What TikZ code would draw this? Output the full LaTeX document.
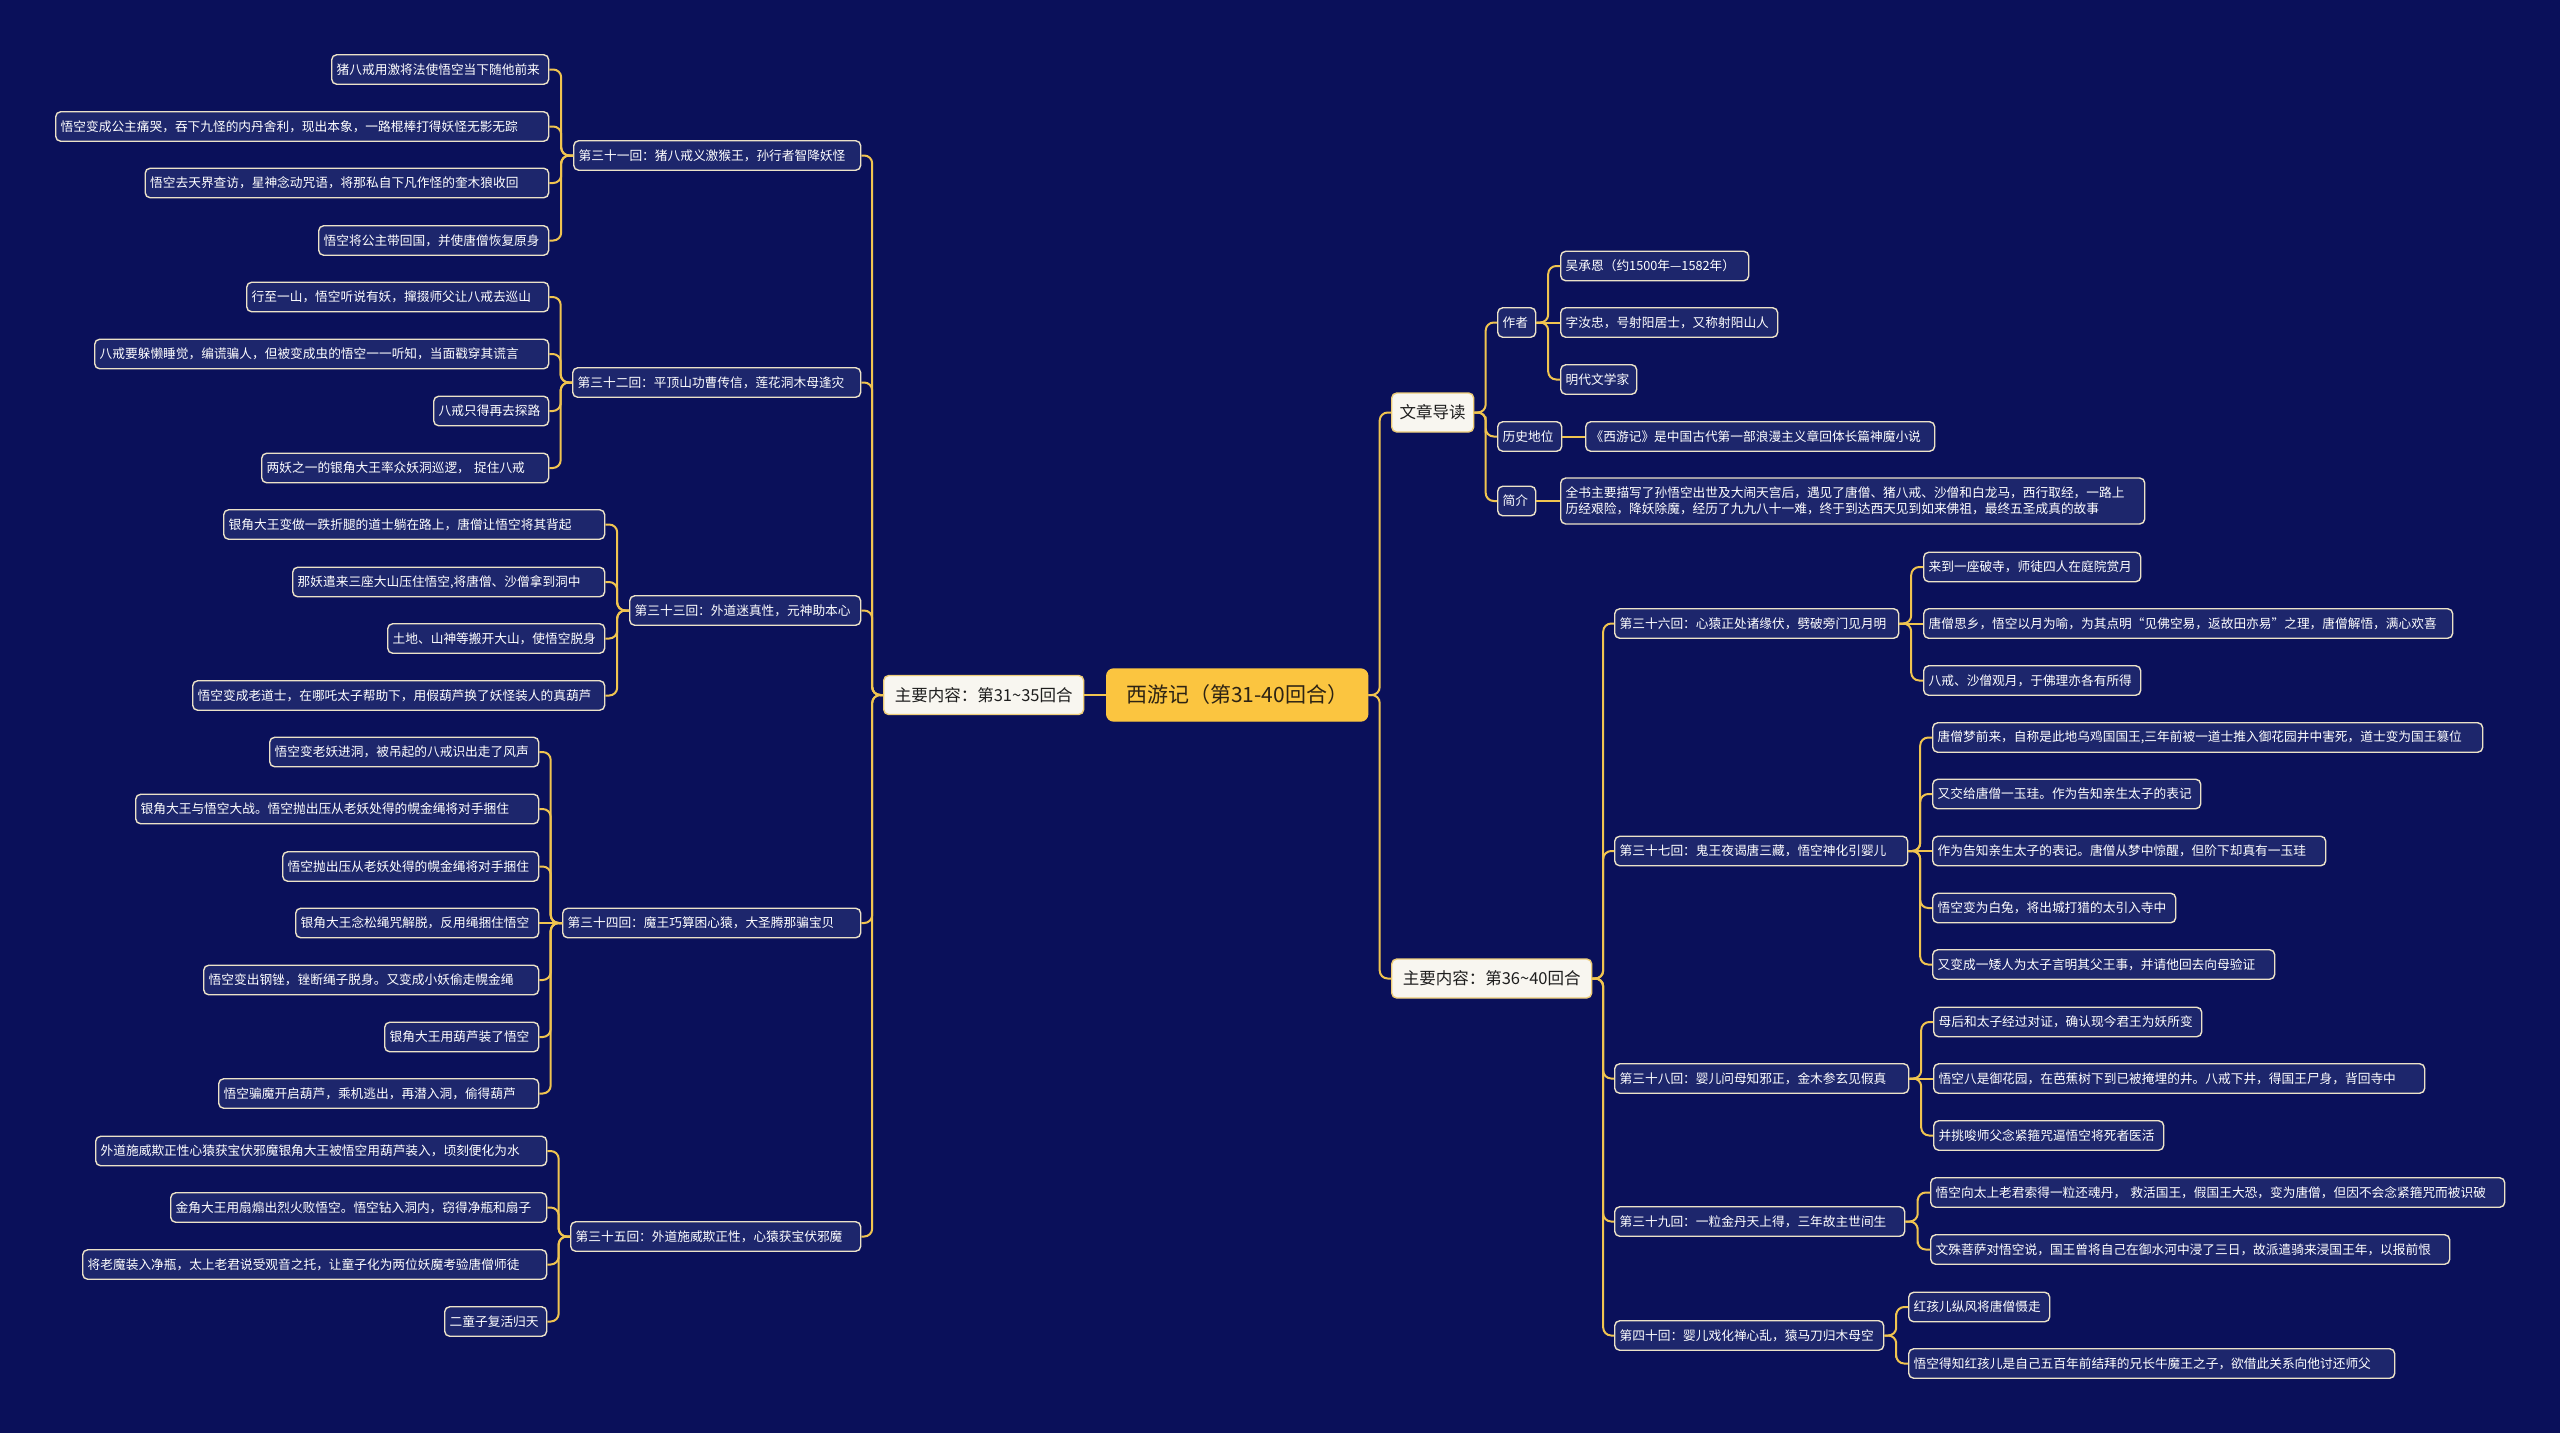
\documentclass[tikz,border=0pt]{standalone}
\usepackage{fontspec}
\setmainfont{Noto Sans CJK SC}
\usetikzlibrary{calc}
\definecolor{bg}{RGB}{10,16,90}
\definecolor{leaffill}{RGB}{29,38,108}
\definecolor{leafdraw}{RGB}{236,226,200}
\definecolor{linkc}{RGB}{240,196,80}
\definecolor{rootfill}{RGB}{251,197,64}
\definecolor{roottext}{RGB}{45,35,20}
\definecolor{lvlfill}{RGB}{248,246,240}
\definecolor{lvldraw}{RGB}{238,205,120}
\definecolor{lvltext}{RGB}{30,30,30}
\newcommand\nd[6]{\pgfmathsetmacro\tw{#4-#3-10}\node[#2, anchor=west, text width=\tw pt] (#1) at (#3,#5) {\mbox{#6}};}
\newcommand\conL[2]{\draw[link] (#1.west) -| ($(#1.west)!.5!(#2.east)$) |- (#2.east);}
\newcommand\conR[2]{\draw[link] (#1.east) -| ($(#1.east)!.5!(#2.west)$) |- (#2.west);}
\newcommand\strL[2]{\draw[link] (#1.west) -- (#2.east);}
\newcommand\strR[2]{\draw[link] (#1.east) -- (#2.west);}
\begin{document}
\begin{tikzpicture}[x=1pt,y=-1pt,
 base/.style={rectangle, rounded corners=5pt, minimum height=29.5pt, inner xsep=5pt, inner ysep=0pt, line width=1.4pt},
 leaf/.style={base, fill=leaffill, draw=leafdraw, text=white, font=\fontsize{12.7}{14}\selectfont, align=left},
 lvl/.style={base, fill=lvlfill, draw=lvldraw, text=lvltext, font=\fontsize{16.5}{19}\selectfont, minimum height=39pt, align=center},
 rootst/.style={base, fill=rootfill, draw=rootfill, text=roottext, font=\fontsize{21}{24}\selectfont, minimum height=52pt, align=center, rounded corners=7pt},
 link/.style={draw=linkc, line width=2pt, rounded corners=8pt}]
\useasboundingbox[fill=bg] (0,0) rectangle (2560,1433);

% centre and level 1
\nd{root}{rootst}{1106}{1367}{695}{西游记（第31-40回合）}
\nd{mainL}{lvl}{883}{1083}{695}{主要内容：第31\textasciitilde35回合}
\nd{intro}{lvl}{1391}{1473}{412.5}{文章导读}
\nd{mainR}{lvl}{1391}{1591}{978.5}{主要内容：第36\textasciitilde40回合}

% left chapters
\nd{c31}{leaf}{573}{860}{155.5}{第三十一回：猪八戒义激猴王，孙行者智降妖怪}
\nd{l31a}{leaf}{331}{548}{69.5}{猪八戒用激将法使悟空当下随他前来}
\nd{l31b}{leaf}{55}{548}{126.5}{悟空变成公主痛哭，吞下九怪的内丹舍利，现出本象，一路棍棒打得妖怪无影无踪}
\nd{l31c}{leaf}{144.5}{548}{183}{悟空去天界查访，星神念动咒语，将那私自下凡作怪的奎木狼收回}
\nd{l31d}{leaf}{318}{548}{240.5}{悟空将公主带回国，并使唐僧恢复原身}

\nd{c32}{leaf}{572}{860}{382.5}{第三十二回：平顶山功曹传信，莲花洞木母逢灾}
\nd{l32a}{leaf}{246}{548}{297}{行至一山，悟空听说有妖，撺掇师父让八戒去巡山}
\nd{l32b}{leaf}{94}{548}{354}{八戒要躲懒睡觉，编谎骗人，但被变成虫的悟空一一听知，当面戳穿其谎言}
\nd{l32c}{leaf}{433}{548}{411}{八戒只得再去探路}
\nd{l32d}{leaf}{261}{548}{468}{两妖之一的银角大王率众妖洞巡逻， 捉住八戒}

\nd{c33}{leaf}{629}{860}{610.5}{第三十三回：外道迷真性，元神助本心}
\nd{l33a}{leaf}{223}{604}{524.5}{银角大王变做一跌折腿的道士躺在路上，唐僧让悟空将其背起}
\nd{l33b}{leaf}{292}{604}{582}{那妖遣来三座大山压住悟空,将唐僧、沙僧拿到洞中}
\nd{l33c}{leaf}{387}{604}{638.5}{土地、山神等搬开大山，使悟空脱身}
\nd{l33d}{leaf}{192}{604}{695.5}{悟空变成老道士，在哪吒太子帮助下，用假葫芦换了妖怪装人的真葫芦}

\nd{c34}{leaf}{562}{860}{923}{第三十四回：魔王巧算困心猿，大圣腾那骗宝贝}
\nd{l34a}{leaf}{269}{538}{752}{悟空变老妖进洞，被吊起的八戒识出走了风声}
\nd{l34b}{leaf}{135}{538}{809}{银角大王与悟空大战。悟空抛出压从老妖处得的幌金绳将对手捆住}
\nd{l34c}{leaf}{282}{538}{866.5}{悟空抛出压从老妖处得的幌金绳将对手捆住}
\nd{l34d}{leaf}{295}{538}{923}{银角大王念松绳咒解脱，反用绳捆住悟空}
\nd{l34e}{leaf}{203}{538}{980}{悟空变出钢锉，锉断绳子脱身。又变成小妖偷走幌金绳}
\nd{l34f}{leaf}{384}{538}{1037}{银角大王用葫芦装了悟空}
\nd{l34g}{leaf}{218}{538}{1093.5}{悟空骗魔开启葫芦，乘机逃出，再潜入洞，偷得葫芦}

\nd{c35}{leaf}{570}{860}{1236.5}{第三十五回：外道施威欺正性，心猿获宝伏邪魔}
\nd{l35a}{leaf}{95}{546}{1151}{外道施威欺正性心猿获宝伏邪魔银角大王被悟空用葫芦装入，顷刻便化为水}
\nd{l35b}{leaf}{170}{546}{1207.5}{金角大王用扇煽出烈火败悟空。悟空钻入洞内，窃得净瓶和扇子}
\nd{l35c}{leaf}{82}{546}{1264.5}{将老魔装入净瓶，太上老君说受观音之托，让童子化为两位妖魔考验唐僧师徒}
\nd{l35d}{leaf}{444}{546}{1321.5}{二童子复活归天}

% right: intro
\nd{zz}{leaf}{1497}{1535}{322.5}{作者}
\nd{ls}{leaf}{1497}{1561}{436.5}{历史地位}
\nd{jj}{leaf}{1497}{1535}{501}{简介}
\nd{a1}{leaf}{1560}{1748}{266}{吴承恩（约1500年—1582年）}
\nd{a2}{leaf}{1560}{1777}{322.5}{字汝忠，号射阳居士，又称射阳山人}
\nd{a3}{leaf}{1560}{1636}{379.5}{明代文学家}
\nd{hist}{leaf}{1585}{1934}{436.5}{《西游记》是中国古代第一部浪漫主义章回体长篇神魔小说}
\node[leaf, anchor=west, text width=574pt, minimum height=46pt, font=\fontsize{12.7}{16}\selectfont] (desc) at (1560,501) {全书主要描写了孙悟空出世及大闹天宫后，遇见了唐僧、猪八戒、沙僧和白龙马，西行取经，一路上\\历经艰险，降妖除魔，经历了九九八十一难，终于到达西天见到如来佛祖，最终五圣成真的故事};

% right chapters
\nd{c36}{leaf}{1614}{1898}{623.5}{第三十六回：心猿正处诸缘伏，劈破旁门见月明}
\nd{r36a}{leaf}{1923}{2140}{567}{来到一座破寺，师徒四人在庭院赏月}
\nd{r36b}{leaf}{1923}{2452}{623.5}{唐僧思乡，悟空以月为喻，为其点明“见佛空易，返故田亦易”之理，唐僧解悟，满心欢喜}
\nd{r36c}{leaf}{1923}{2140}{680.5}{八戒、沙僧观月，于佛理亦各有所得}

\nd{c37}{leaf}{1614}{1907}{851}{第三十七回：鬼王夜谒唐三藏，悟空神化引婴儿}
\nd{r37a}{leaf}{1932}{2482}{737.5}{唐僧梦前来，自称是此地乌鸡国国王,三年前被一道士推入御花园井中害死，道士变为国王篡位}
\nd{r37b}{leaf}{1932}{2200}{794}{又交给唐僧一玉珪。作为告知亲生太子的表记}
\nd{r37c}{leaf}{1932}{2325}{851}{作为告知亲生太子的表记。唐僧从梦中惊醒，但阶下却真有一玉珪}
\nd{r37d}{leaf}{1932}{2175}{908}{悟空变为白兔，将出城打猎的太引入寺中}
\nd{r37e}{leaf}{1932}{2274}{964.5}{又变成一矮人为太子言明其父王事，并请他回去向母验证}

\nd{c38}{leaf}{1614}{1908}{1078.5}{第三十八回：婴儿问母知邪正，金木参玄见假真}
\nd{r38a}{leaf}{1933}{2201}{1022}{母后和太子经过对证，确认现今君王为妖所变}
\nd{r38b}{leaf}{1933}{2424}{1078.5}{悟空八是御花园，在芭蕉树下到已被掩埋的井。八戒下井，得国王尸身，背回寺中}
\nd{r38c}{leaf}{1933}{2163}{1135.5}{并挑唆师父念紧箍咒逼悟空将死者医活}

\nd{c39}{leaf}{1614}{1904}{1221.5}{第三十九回：一粒金丹天上得，三年故主世间生}
\nd{r39a}{leaf}{1930}{2504}{1192.5}{悟空向太上老君索得一粒还魂丹， 救活国王，假国王大恐，变为唐僧，但因不会念紧箍咒而被识破}
\nd{r39b}{leaf}{1930}{2449}{1249.5}{文殊菩萨对悟空说，国王曾将自己在御水河中浸了三日，故派遣骑来浸国王年，以报前恨}

\nd{c40}{leaf}{1614}{1883}{1335.5}{第四十回：婴儿戏化禅心乱，猿马刀归木母空}
\nd{r40a}{leaf}{1908}{2049}{1307}{红孩儿纵风将唐僧慑走}
\nd{r40b}{leaf}{1908}{2394}{1363.5}{悟空得知红孩儿是自己五百年前结拜的兄长牛魔王之子，欲借此关系向他讨还师父}

% connectors
\strL{root}{mainL}
\conR{root}{intro}
\conR{root}{mainR}
\conL{mainL}{c31}\conL{mainL}{c32}\conL{mainL}{c33}\conL{mainL}{c34}\conL{mainL}{c35}
\conL{c31}{l31a}\conL{c31}{l31b}\conL{c31}{l31c}\conL{c31}{l31d}
\conL{c32}{l32a}\conL{c32}{l32b}\conL{c32}{l32c}\conL{c32}{l32d}
\conL{c33}{l33a}\conL{c33}{l33b}\conL{c33}{l33c}\conL{c33}{l33d}
\conL{c34}{l34a}\conL{c34}{l34b}\conL{c34}{l34c}\strL{c34}{l34d}\conL{c34}{l34e}\conL{c34}{l34f}\conL{c34}{l34g}
\conL{c35}{l35a}\conL{c35}{l35b}\conL{c35}{l35c}\conL{c35}{l35d}
\conR{intro}{zz}\conR{intro}{ls}\conR{intro}{jj}
\conR{zz}{a1}\strR{zz}{a2}\conR{zz}{a3}
\strR{ls}{hist}
\strR{jj}{desc}
\conR{mainR}{c36}\conR{mainR}{c37}\conR{mainR}{c38}\conR{mainR}{c39}\conR{mainR}{c40}
\conR{c36}{r36a}\strR{c36}{r36b}\conR{c36}{r36c}
\conR{c37}{r37a}\conR{c37}{r37b}\strR{c37}{r37c}\conR{c37}{r37d}\conR{c37}{r37e}
\conR{c38}{r38a}\strR{c38}{r38b}\conR{c38}{r38c}
\conR{c39}{r39a}\conR{c39}{r39b}
\conR{c40}{r40a}\conR{c40}{r40b}
\end{tikzpicture}
\end{document}
